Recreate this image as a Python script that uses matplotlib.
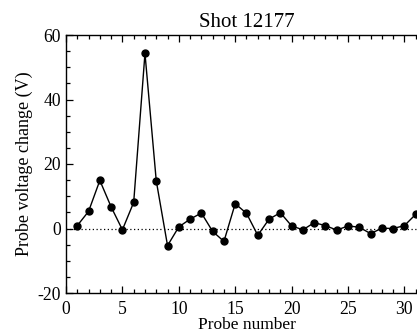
import matplotlib
matplotlib.use('Agg')
import matplotlib.pyplot as plt
from matplotlib.ticker import MultipleLocator

probe = list(range(1, 32))
dv = [0.9, 5.3, 14.9, 6.7, -0.4, 8.1, 54.3, 14.8, -5.3, 0.5,
      2.9, 4.8, -0.9, -4.0, 7.7, 4.7, -2.1, 2.9, 4.9, 0.8,
      -0.4, 1.8, 0.9, -0.5, 0.8, 0.4, -1.6, 0.1, 0.0, 0.9, 4.4]

plt.rcParams['font.family'] = ['Liberation Serif', 'DejaVu Serif']
plt.rcParams['axes.unicode_minus'] = False

fig = plt.figure(figsize=(4.17, 3.34), dpi=100)
ax = fig.add_axes([66/417, 41/334, 361/417, 258/334])

ax.axhline(0, color='black', linestyle=(0, (1, 2)), linewidth=0.9)
ax.plot(probe, dv, color='black', linewidth=1.0, marker='o', markersize=5)

ax.set_xlim(0, 32)
ax.set_ylim(-20, 60)
ax.xaxis.set_major_locator(MultipleLocator(5))
ax.xaxis.set_minor_locator(MultipleLocator(1))
ax.yaxis.set_major_locator(MultipleLocator(20))
ax.yaxis.set_minor_locator(MultipleLocator(5))
ax.tick_params(which='both', direction='in', top=True, right=True, labelsize=12.7, width=0.9)
ax.tick_params(which='major', length=5)
ax.tick_params(which='minor', length=2.7)
ax.tick_params(axis='x', pad=6)
for s in ax.spines.values():
    s.set_linewidth(1.0)

ax.set_title('Shot 12177', fontsize=15, pad=6)
ax.set_xlabel('Probe number', fontsize=12.5, labelpad=-1)
ax.set_ylabel('Probe voltage change (V)', fontsize=13, labelpad=3)

fig.savefig('out.png', dpi=100)
